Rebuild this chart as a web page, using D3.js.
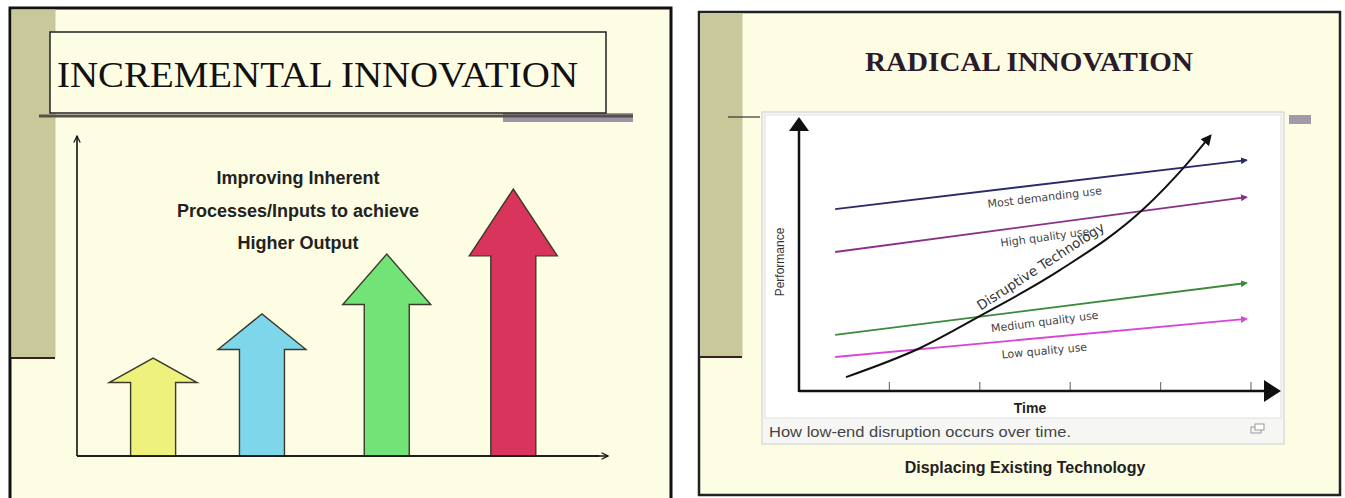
<!DOCTYPE html>
<html><head><meta charset="utf-8">
<script src="https://cdn.jsdelivr.net/npm/d3@7"></script>
<style>body{margin:0;background:#fff;overflow:hidden}svg{display:block}</style>
</head><body><svg id="c" width="1345" height="498"></svg>
<script>
// ---------- DATA ----------
const leftTitle = "INCREMENTAL INNOVATION";
const leftText = ["Improving Inherent", "Processes/Inputs to achieve", "Higher Output"];
const stageNames = ["Stage 1", "Stage 2", "Stage 3", "Stage 4"];
const stagePos = [0.86, 2.09, 3.5, 4.93];
const stageOutput = [30.6, 44.4, 63.1, 83.4];
const stageColors = ["#eef27c", "#7dd6ea", "#72e477", "#d9345c"];

const rightTitle = "RADICAL INNOVATION";
const useNames = ["Most demanding use", "High quality use", "Medium quality use", "Low quality use"];
const useTime = [0.4, 4.95];
const useStart = [66.9, 51.1, 20.6, 12.5];
const useEnd = [84.9, 71.3, 39.7, 26.5];
const useColors = ["#2a2a6a", "#8a3088", "#3a8a3a", "#d846d8"];
const disruptTime = [0.52, 1.34, 2.02, 2.89, 3.81, 4.27, 4.55];
const disruptPerf = [5.1, 15.8, 27.9, 44.5, 66.9, 82.7, 93.8];
const timeTicks = [1, 2, 3, 4, 5];
const caption = "How low-end disruption occurs over time.";
const footer = "Displacing Existing Technology";

// ---------- DRAW ----------
const svg = d3.select("#c");
const cream = "#fdfde4", olive = "#c9c89b";
const defs = svg.append("defs");

// ===== LEFT SLIDE =====
const L = svg.append("g");
L.append("rect").attr("x", 10).attr("y", 8).attr("width", 661).attr("height", 500)
  .attr("fill", cream).attr("stroke", "#111").attr("stroke-width", 3);
L.append("rect").attr("x", 11.5).attr("y", 9.5).attr("width", 44).attr("height", 348).attr("fill", olive);
L.append("line").attr("x1", 11).attr("x2", 55).attr("y1", 358).attr("y2", 358).attr("stroke", "#3a2020").attr("stroke-width", 2);
// title box
L.append("rect").attr("x", 503).attr("y", 113).attr("width", 130).attr("height", 9).attr("fill", "#9c94a4");
L.append("line").attr("x1", 39).attr("x2", 633).attr("y1", 116).attr("y2", 116).attr("stroke", "#55504a").attr("stroke-width", 3);
L.append("rect").attr("x", 50).attr("y", 32).attr("width", 556).attr("height", 81)
  .attr("fill", cream).attr("stroke", "#222").attr("stroke-width", 1.5);
L.append("text").attr("x", 57).attr("y", 87).text(leftTitle)
  .attr("font-family", "'Liberation Serif', 'Times New Roman', serif").attr("font-size", 36)
  .attr("textLength", 521).attr("lengthAdjust", "spacingAndGlyphs").attr("fill", "#111");

const lx = d3.scaleLinear().domain([0, 6]).range([77, 608]);
const ly = d3.scaleLinear().domain([0, 100]).range([456, 136]);

defs.append("marker").attr("id", "lar").attr("viewBox", "0 0 10 10").attr("refX", 9).attr("refY", 5)
  .attr("markerWidth", 8).attr("markerHeight", 8).attr("markerUnits", "userSpaceOnUse").attr("orient", "auto")
  .append("path").attr("d", "M1,1 L9,5 L1,9").attr("fill", "none").attr("stroke", "#111").attr("stroke-width", 1.5);

L.append("line").attr("x1", lx(0)).attr("x2", lx(0)).attr("y1", ly(0)).attr("y2", ly(100))
  .attr("stroke", "#111").attr("stroke-width", 1.6).attr("marker-end", "url(#lar)");
L.append("line").attr("x1", lx(0)).attr("x2", lx(6)).attr("y1", ly(0)).attr("y2", ly(0))
  .attr("stroke", "#111").attr("stroke-width", 1.6).attr("marker-end", "url(#lar)");

const shaftHalf = 22.5, headHalf = 44;
L.selectAll("path.arr").data(stageNames).join("path").attr("class", "arr")
  .attr("d", (d, i) => {
    const cx = lx(stagePos[i]), base = ly(0), tip = ly(stageOutput[i]);
    const hb = tip + (base - tip) * 0.25;
    return `M${cx - shaftHalf},${base} L${cx - shaftHalf},${hb} L${cx - headHalf},${hb} L${cx},${tip} L${cx + headHalf},${hb} L${cx + shaftHalf},${hb} L${cx + shaftHalf},${base} Z`;
  })
  .attr("fill", (d, i) => stageColors[i]).attr("stroke", "#3b3a2c").attr("stroke-width", 1.4)
  .attr("stroke-linejoin", "miter");
L.append("line").attr("x1", lx(0)).attr("x2", lx(5.9)).attr("y1", ly(0)).attr("y2", ly(0))
  .attr("stroke", "#111").attr("stroke-width", 1.6);

L.selectAll("text.lt").data(leftText).join("text").attr("class", "lt")
  .attr("x", 298).attr("y", (d, i) => 184 + i * 32.5).attr("text-anchor", "middle")
  .attr("font-family", "'Liberation Sans', Arial, sans-serif").attr("font-weight", "bold")
  .attr("font-size", 18).attr("fill", "#222").text(d => d);

// ===== RIGHT SLIDE =====
const R = svg.append("g");
R.append("rect").attr("x", 699).attr("y", 12).attr("width", 641).attr("height", 483)
  .attr("fill", cream).attr("stroke", "#222").attr("stroke-width", 2.5);
R.append("rect").attr("x", 700.5).attr("y", 13.5).attr("width", 42).attr("height", 343).attr("fill", olive);
R.append("line").attr("x1", 700).attr("x2", 742).attr("y1", 357).attr("y2", 357).attr("stroke", "#3a2020").attr("stroke-width", 2);
R.append("line").attr("x1", 728).attr("x2", 760).attr("y1", 117).attr("y2", 117).attr("stroke", "#333").attr("stroke-width", 1.2);
R.append("rect").attr("x", 1289).attr("y", 115).attr("width", 22).attr("height", 9).attr("fill", "#a29aa8");
R.append("text").attr("x", 1029).attr("y", 71).attr("text-anchor", "middle").text(rightTitle)
  .attr("font-family", "'Liberation Serif', 'Times New Roman', serif").attr("font-weight", "bold")
  .attr("font-size", 28).attr("textLength", 328).attr("lengthAdjust", "spacingAndGlyphs").attr("fill", "#2a1a2a");

// chart panel
R.append("rect").attr("x", 762).attr("y", 112).attr("width", 522).attr("height", 332)
  .attr("fill", "#f6f7f5").attr("stroke", "#d4d6d2").attr("stroke-width", 1.2);
R.append("rect").attr("x", 765).attr("y", 115).attr("width", 516).attr("height", 303)
  .attr("fill", "#fff").attr("stroke", "#e0e2de").attr("stroke-width", 1);
R.append("text").attr("x", 769).attr("y", 437).text(caption)
  .attr("font-family", "'Liberation Sans', Arial, sans-serif").attr("font-size", 15)
  .attr("textLength", 302).attr("lengthAdjust", "spacingAndGlyphs").attr("fill", "#444");
R.append("rect").attr("x", 1251).attr("y", 427).attr("width", 10).attr("height", 6).attr("fill", "none").attr("stroke", "#999").attr("stroke-width", 1);
R.append("rect").attr("x", 1255).attr("y", 424).attr("width", 9).attr("height", 6).attr("fill", "#fff").attr("stroke", "#999").attr("stroke-width", 1);

const x = d3.scaleLinear().domain([0, 5]).range([799, 1251]);
const y = d3.scaleLinear().domain([0, 100]).range([391, 119]);

R.selectAll("line.tk").data(timeTicks).join("line").attr("class", "tk")
  .attr("x1", d => x(d)).attr("x2", d => x(d)).attr("y1", y(0)).attr("y2", y(0) - 9)
  .attr("stroke", "#777").attr("stroke-width", 1.2);
R.append("line").attr("x1", x(0)).attr("x2", 1266).attr("y1", y(0)).attr("y2", y(0)).attr("stroke", "#111").attr("stroke-width", 2.5);
R.append("line").attr("x1", x(0)).attr("x2", x(0)).attr("y1", y(0) + 1).attr("y2", 130).attr("stroke", "#111").attr("stroke-width", 2.5);
R.append("path").attr("d", `M1264,${y(0) - 11} L1281,${y(0)} L1264,${y(0) + 11} Z`).attr("fill", "#111");
R.append("path").attr("d", `M${x(0) - 10},131 L${x(0)},117 L${x(0) + 10},131 Z`).attr("fill", "#111");

R.append("text").attr("x", 1030).attr("y", 413).attr("text-anchor", "middle").text("Time")
  .attr("font-family", "'Liberation Sans', Arial, sans-serif").attr("font-weight", "bold").attr("font-size", 14).attr("fill", "#222");
R.append("text").attr("transform", "translate(784,262) rotate(-90)").attr("text-anchor", "middle").text("Performance")
  .attr("font-family", "'Liberation Sans', Arial, sans-serif").attr("font-size", 12).attr("fill", "#333");

useColors.forEach((c, i) => {
  defs.append("marker").attr("id", "um" + i).attr("viewBox", "0 0 10 10").attr("refX", 8).attr("refY", 5)
    .attr("markerWidth", 7).attr("markerHeight", 7).attr("markerUnits", "userSpaceOnUse").attr("orient", "auto")
    .append("path").attr("d", "M0,0 L10,5 L0,10 Z").attr("fill", c);
});
defs.append("marker").attr("id", "dm").attr("viewBox", "0 0 10 10").attr("refX", 8).attr("refY", 5)
  .attr("markerWidth", 11).attr("markerHeight", 11).attr("markerUnits", "userSpaceOnUse").attr("orient", "auto")
  .append("path").attr("d", "M0,0 L10,5 L0,10 Z").attr("fill", "#111");

R.selectAll("line.use").data(useNames).join("line").attr("class", "use")
  .attr("x1", x(useTime[0])).attr("x2", x(useTime[1]))
  .attr("y1", (d, i) => y(useStart[i])).attr("y2", (d, i) => y(useEnd[i]))
  .attr("stroke", (d, i) => useColors[i]).attr("stroke-width", 1.8)
  .attr("marker-end", (d, i) => `url(#um${i})`);

const labT = 2.7;
R.selectAll("text.ul").data(useNames).join("text").attr("class", "ul")
  .attr("transform", (d, i) => {
    const x1 = x(useTime[0]), x2 = x(useTime[1]), y1 = y(useStart[i]), y2 = y(useEnd[i]);
    const ang = Math.atan2(y2 - y1, x2 - x1);
    const px = x(labT), py = y1 + (y2 - y1) * (px - x1) / (x2 - x1);
    const off = 13;
    const cx = px - Math.sin(ang) * off, cy = py + Math.cos(ang) * off;
    return `translate(${cx},${cy}) rotate(${ang * 180 / Math.PI})`;
  })
  .attr("text-anchor", "middle").attr("dy", "0.35em")
  .attr("font-family", "'DejaVu Sans', Verdana, sans-serif").attr("font-size", 11).attr("fill", "#444")
  .text(d => d);

const dpts = disruptTime.map((t, i) => [x(t), y(disruptPerf[i])]);
R.append("path").attr("d", d3.line().curve(d3.curveMonotoneX)(dpts))
  .attr("fill", "none").attr("stroke", "#111").attr("stroke-width", 2).attr("marker-end", "url(#dm)");
R.append("text").attr("transform", "translate(1045,273) rotate(-33)").attr("text-anchor", "middle").attr("dy", "-0.25em")
  .attr("font-family", "'DejaVu Sans', Verdana, sans-serif").attr("font-size", 13.5).attr("fill", "#333")
  .text("Disruptive Technology");

R.append("text").attr("x", 1025).attr("y", 473).attr("text-anchor", "middle").text(footer)
  .attr("font-family", "'Liberation Sans', Arial, sans-serif").attr("font-weight", "bold")
  .attr("font-size", 16).attr("fill", "#222");
</script></body></html>
